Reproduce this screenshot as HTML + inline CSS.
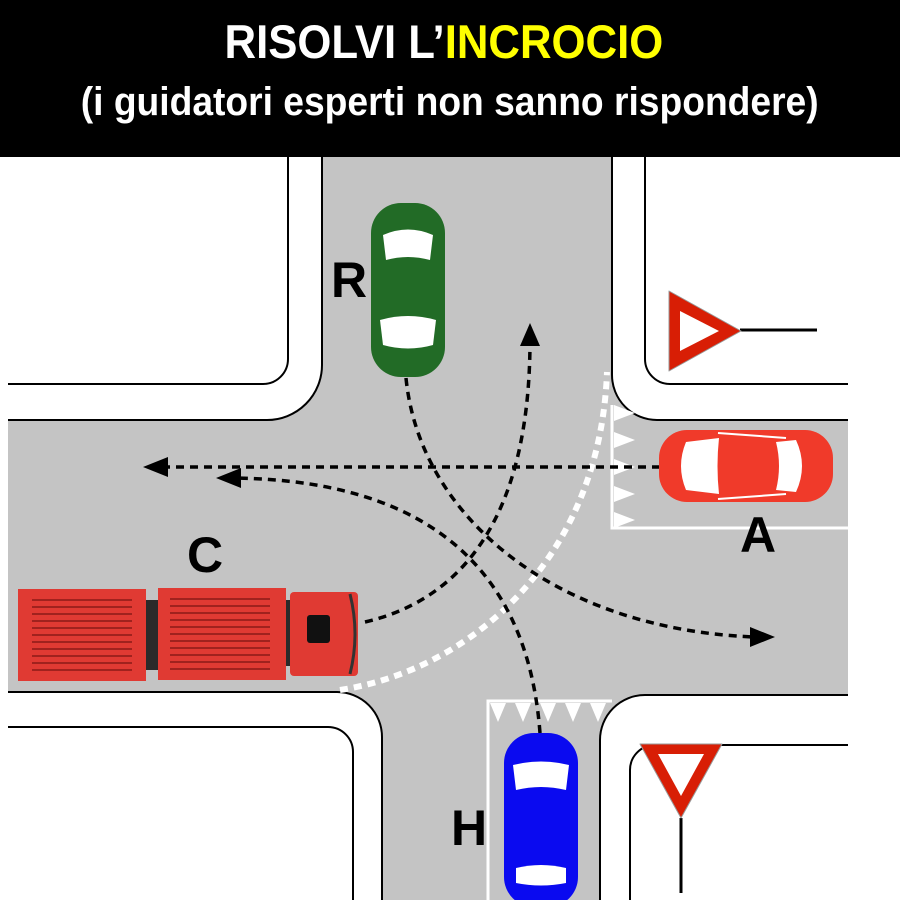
<!DOCTYPE html>
<html><head><meta charset="utf-8"><style>
html,body{margin:0;padding:0;background:#fff;}
.hdr{position:absolute;left:0;top:0;width:900px;height:157px;background:#000;}
.t{position:absolute;left:0;width:900px;text-align:center;color:#fff;font-family:"Liberation Sans Narrow","Liberation Sans",sans-serif;font-weight:bold;white-space:nowrap;}
</style></head><body>
<div class="hdr"></div>
<div class="t" style="top:14px;font-size:47px;"><span style="display:inline-block;transform:scaleX(0.93);position:relative;left:-6px">RISOLVI L’<span style="color:#ffff00">INCROCIO</span></span></div>
<div class="t" style="top:80px;font-size:40px;"><span style="display:inline-block;transform:scaleX(0.93)">(i guidatori esperti non sanno rispondere)</span></div>
<svg style="position:absolute;left:0;top:157px" width="900" height="743" viewBox="0 157 900 743" xmlns="http://www.w3.org/2000/svg">
<rect x="322" y="157" width="290" height="300" fill="#c4c4c4"/>
<rect x="8" y="420" width="840" height="272" fill="#c4c4c4"/>
<rect x="382" y="600" width="218" height="300" fill="#c4c4c4"/>
<rect x="600" y="692" width="248" height="3" fill="#c4c4c4"/>
<path d="M267,420 A55,55 0 0 0 322,365 L322,420z" fill="#c4c4c4"/>
<path d="M612,375 A45,45 0 0 0 657,420 L612,420z" fill="#c4c4c4"/>
<path d="M337,692 A45,45 0 0 1 382,737 L382,692z" fill="#c4c4c4"/>
<path d="M600,740 A45,45 0 0 1 645,695 L600,695z" fill="#c4c4c4"/>
<g fill="none" stroke="#000" stroke-width="2">
<path d="M322,157 V365 A55,55 0 0 1 267,420 H8"/>
<path d="M612,157 V375 A45,45 0 0 0 657,420 H848"/>
<path d="M8,692 H337 A45,45 0 0 1 382,737 V900"/>
<path d="M848,695 H645 A45,45 0 0 0 600,740 V900"/>
<path d="M288,157 V359 A25,25 0 0 1 263,384 H8"/>
<path d="M645,157 V359 A25,25 0 0 0 670,384 H848"/>
<path d="M8,727 H328 A25,25 0 0 1 353,752 V900"/>
<path d="M848,745 H655 A25,25 0 0 0 630,770 V900"/>
</g>
<path d="M612,405 V528 H848" fill="none" stroke="#fff" stroke-width="3"/>
<path d="M488,900 V701 H612" fill="none" stroke="#fff" stroke-width="3"/>
<g fill="#fff">
<path d="M614,405 L635,413 L614,421z"/><path d="M614,432 L635,440 L614,448z"/><path d="M614,459 L635,467 L614,475z"/><path d="M614,486 L635,494 L614,502z"/><path d="M614,512 L635,520 L614,528z"/>
<path d="M490,703 L498,722 L506,703z"/><path d="M515,703 L523,722 L531,703z"/><path d="M540,703 L548,722 L556,703z"/><path d="M565,703 L573,722 L581,703z"/><path d="M590,703 L598,722 L606,703z"/>
</g>
<path d="M340,690 C470,670 600,560 607,372" fill="none" stroke="#fff" stroke-width="6" stroke-dasharray="8,6"/>
<g fill="none" stroke="#000" stroke-width="3.5" stroke-dasharray="8,6">
<path d="M660,467 H158"/>
<path d="M406,378 C420,520 560,630 755,637"/>
<path d="M540,733 C530,600 460,480 232,478"/>
<path d="M365,622 C460,600 530,520 530,340"/>
</g>
<g fill="#000">
<path d="M143,467 L168,457 L168,477z"/>
<path d="M216,478 L241,468 L241,488z"/>
<path d="M775,637 L750,627 L750,647z"/>
<path d="M530,323 L520,346 L540,346z"/>
</g>
<path d="M740,330 H817" stroke="#000" stroke-width="3"/>
<path d="M669,291 L741,331 L669,371z" fill="#d81e05" stroke="#999" stroke-width="1" stroke-linejoin="round"/>
<path d="M680,311 L719,331 L680,351z" fill="#fff"/>
<path d="M681,818 V893" stroke="#000" stroke-width="3"/>
<path d="M640,744 L722,744 L681,818z" fill="#d81e05" stroke="#999" stroke-width="1" stroke-linejoin="round"/>
<path d="M658,754 L704,754 L681,796z" fill="#fff"/>
<g transform="translate(408,290)">
<rect x="-37" y="-87" width="74" height="174" rx="30" fill="#226b26"/>
<path d="M-25,-55 Q0,-66 25,-55 L22,-30 Q0,-36 -22,-30z" fill="#fff"/>
<path d="M-28,30 Q0,22 28,30 L25,55 Q0,62 -25,55z" fill="#fff"/>
</g>
<g transform="translate(746,466)">
<rect x="-87" y="-36" width="174" height="72" rx="28" fill="#f03a2a"/>
<path d="M-60,-24 Q-70,0 -60,24 L-27,28 Q-30,0 -27,-28z" fill="#fff"/>
<path d="M30,-24 L50,-26 Q62,0 50,26 L30,24 Q36,0 30,-24z" fill="#fff"/>
<path d="M-28,-33 L40,-28 M-28,33 L40,28" stroke="#fff" stroke-width="2"/>
</g>
<g transform="translate(541,820)">
<rect x="-37" y="-87" width="74" height="174" rx="30" fill="#0a0af0"/>
<path d="M-28,-55 Q0,-62 28,-55 L25,-30 Q0,-36 -25,-30z" fill="#fff"/>
<path d="M-25,48 Q0,42 25,48 L25,63 Q0,68 -25,63z" fill="#fff"/>
</g>
<g>
<rect x="18" y="589" width="128" height="92" fill="#e03a33"/>
<rect x="146" y="600" width="12" height="70" fill="#2a2a2a"/>
<rect x="158" y="588" width="128" height="92" fill="#e03a33"/>
<rect x="286" y="600" width="5" height="66" fill="#2a2a2a"/>
<rect x="290" y="592" width="68" height="84" rx="4" fill="#e03a33"/>
<rect x="307" y="615" width="23" height="28" rx="3" fill="#111"/>
<path d="M350,594 Q360,634 350,674" stroke="#333" stroke-width="3" fill="none"/>
<g stroke="#8a1a18" stroke-width="1.5">
<path d="M32,600H132M32,607H132M32,614H132M32,621H132M32,628H132M32,635H132M32,642H132M32,649H132M32,656H132M32,663H132M32,670H132"/>
<path d="M170,599H270M170,606H270M170,613H270M170,620H270M170,627H270M170,634H270M170,641H270M170,648H270M170,655H270M170,662H270M170,669H270"/>
</g>
</g>
<g font-family="Liberation Sans, sans-serif" font-weight="bold" font-size="50" fill="#000">
<text x="331" y="297">R</text>
<text x="740" y="552">A</text>
<text x="187" y="572">C</text>
<text x="451" y="845">H</text>
</g>
</svg>
</body></html>
